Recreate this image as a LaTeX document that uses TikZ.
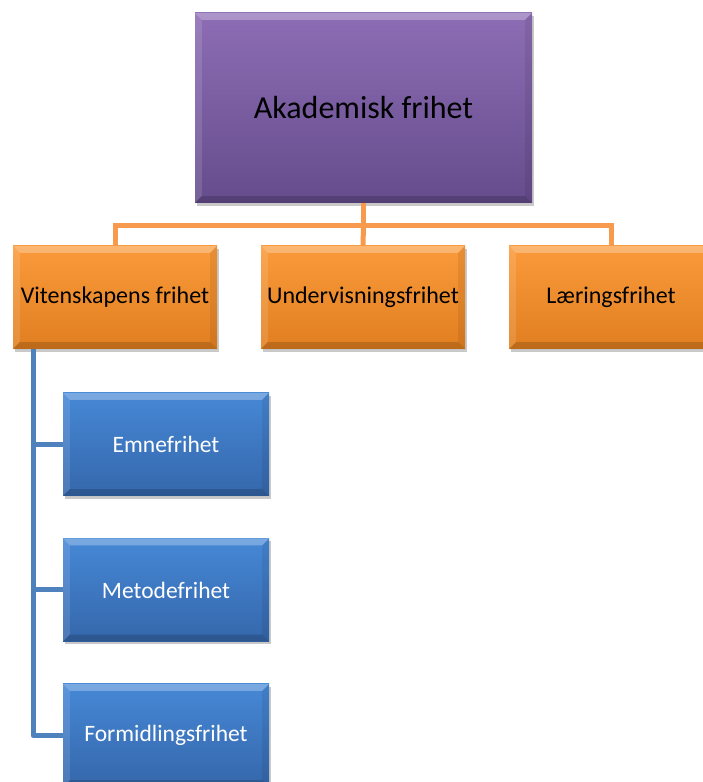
\documentclass[tikz,border=0pt]{standalone}
\usepackage{fontspec}
\setmainfont{Carlito}
\usetikzlibrary{calc,shadows}
\definecolor{purpT}{HTML}{8D6DB5}
\definecolor{purpB}{HTML}{654C8C}
\definecolor{orgT}{HTML}{FA9A3A}
\definecolor{orgB}{HTML}{E17F20}
\definecolor{bluT}{HTML}{4688D6}
\definecolor{bluB}{HTML}{3567AB}
\definecolor{oline}{HTML}{F79A4E}
\definecolor{bline}{HTML}{4F81BD}
\tikzset{
  x=1pt,y=1pt,
  boxbase/.style={rectangle,inner sep=0pt,align=center,
    drop shadow={shadow xshift=2pt,shadow yshift=-3pt,opacity=0.3,fill=black!70}},
  topbox/.style={boxbase,minimum width=337pt,minimum height=190pt,
    top color=purpT,bottom color=purpB,font=\fontsize{32}{38}\selectfont},
  orgbox/.style={boxbase,minimum width=204pt,minimum height=103pt,
    top color=orgT,bottom color=orgB,font=\fontsize{24}{28}\selectfont},
  blubox/.style={boxbase,minimum width=206pt,minimum height=103pt,
    top color=bluT,bottom color=bluB,text=white,font=\fontsize{23.5}{28}\selectfont},
  olink/.style={draw=oline,line width=5pt},
  blink/.style={draw=bline,line width=5pt},
}
\newcommand\bevelbox[1]{%
  \fill[white,opacity=0.28] (#1.north west) -- (#1.north east) -- ($(#1.north east)+(-7,-7)$) -- ($(#1.north west)+(7,-7)$) -- cycle;
  \fill[white,opacity=0.12] (#1.north west) -- ($(#1.north west)+(7,-7)$) -- ($(#1.south west)+(7,7)$) -- (#1.south west) -- cycle;
  \fill[black,opacity=0.07] (#1.north east) -- ($(#1.north east)+(-7,-7)$) -- ($(#1.south east)+(-7,7)$) -- (#1.south east) -- cycle;
  \fill[black,opacity=0.16] (#1.south west) -- ($(#1.south west)+(7,7)$) -- ($(#1.south east)+(-7,7)$) -- (#1.south east) -- cycle;
}
\begin{document}
\begin{tikzpicture}
\useasboundingbox (0,0) rectangle (703,782);
\node[topbox] (top) at (363.5,674) {Akademisk frihet};
\node[orgbox] (o1) at (115,484.5) {Vitenskapens frihet};
\node[orgbox] (o2) at (363,484.5) {Undervisningsfrihet};
\node[orgbox] (o3) at (611,484.5) {Læringsfrihet};
\node[blubox] (b1) at (166,337.5) {Emnefrihet};
\node[blubox] (b2) at (166,192) {Metodefrihet};
\node[blubox] (b3) at (166,46.5) {Formidlingsfrihet};
\bevelbox{top}\bevelbox{o1}\bevelbox{o2}\bevelbox{o3}
\bevelbox{b1}\bevelbox{b2}\bevelbox{b3}
\coordinate (bus) at (363.5,556);
\draw[olink] (top.south) -- (bus);
\draw[olink] (bus) -| (o1.north);
\draw[olink] (bus) -| (o3.north);
\draw[olink] (bus) -- (o2.north);
\coordinate (sp) at (33,433);
\draw[blink,line join=round] (sp) |- (b3.west);
\draw[blink] (sp |- b1.west) -- (b1.west);
\draw[blink] (sp |- b2.west) -- (b2.west);
\end{tikzpicture}
\end{document}
